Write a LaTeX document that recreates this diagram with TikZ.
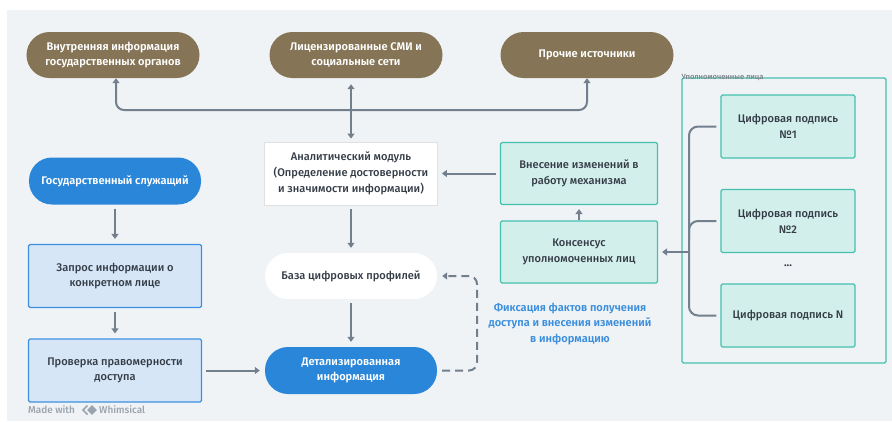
\documentclass[tikz,border=0pt]{standalone}
\usepackage{fontspec}
\setmainfont{Fira Sans}[UprightFont={* Medium},BoldFont={* SemiBold}]
\usetikzlibrary{arrows.meta,positioning,shapes.geometric}
\definecolor{bgc}{HTML}{F0F3F6}
\definecolor{brownc}{HTML}{857556}
\definecolor{bluec}{HTML}{2A86D9}
\definecolor{lbfill}{HTML}{D6E6F7}
\definecolor{lbdraw}{HTML}{3D90E0}
\definecolor{tfill}{HTML}{D3EFEB}
\definecolor{tdraw}{HTML}{45C0AE}
\definecolor{arrc}{HTML}{727F8D}
\definecolor{txtc}{HTML}{343C46}
\definecolor{fixc}{HTML}{3A8EDC}
\definecolor{grayt}{HTML}{9AA3AD}
\newcommand\mainfs{\fontsize{11.1}{15.8}\selectfont}
\tikzset{
  base/.style={align=center, font=\mainfs, inner sep=0pt},
  brownpill/.style={base, fill=brownc, text=white, rounded corners=23bp, minimum width=173bp, minimum height=46bp, font=\mainfs\bfseries},
  bluepill/.style={base, fill=bluec, text=white, rounded corners=23bp, minimum width=172bp, minimum height=47bp, font=\mainfs\bfseries},
  whitepill/.style={base, fill=white, text=txtc, rounded corners=23bp, minimum width=172bp, minimum height=46bp},
  whitebox/.style={base, fill=white, draw=black!12, line width=0.8bp, text=txtc, minimum width=173bp, minimum height=63bp},
  lbbox/.style={base, fill=lbfill, draw=lbdraw, line width=1.2bp, rounded corners=1.5bp, text=txtc, minimum width=173bp, minimum height=63bp},
  tbox/.style={base, fill=tfill, draw=tdraw, line width=1.2bp, rounded corners=1.5bp, text=txtc, minimum width=157bp, minimum height=62bp},
  sbox/.style={base, fill=tfill, draw=tdraw, line width=1.2bp, rounded corners=1.5bp, text=txtc, minimum width=134bp, minimum height=63bp},
  arr/.style={draw=arrc, line width=2bp, -{Triangle[length=5bp,width=7bp]}},
  ln/.style={draw=arrc, line width=2bp},
}
\begin{document}
\begin{tikzpicture}[x=1bp,y=-1bp]
\fill[white] (0,0) rectangle (892,421);
\fill[bgc] (7,10) rectangle (892,421);
\useasboundingbox (0,0) rectangle (892,421);

% top sources
\node[brownpill] (n1) at (113,55) {Внутренняя информация\\государственных органов};
\node[brownpill] (n2) at (356,55) {Лицензированные СМИ и\\социальные сети};
\node[brownpill] (n3) at (587,55) {Прочие источники};

% middle column
\node[whitebox] (ana) at (351,173.5) {Аналитический модуль\\(Определение достоверности\\и значимости информации)};
\node[whitepill] (baza) at (351,276) {База цифровых профилей};
\node[bluepill] (det) at (351,370.5) {Детализированная\\информация};

% left column
\node[bluepill] (gos) at (115,181) {Государственный служащий};
\node[lbbox] (zap) at (115,276) {Запрос информации о\\конкретном лице};
\node[lbbox] (prov) at (115,370.5) {Проверка правомерности\\доступа};

% right column
\node[tbox] (vnes) at (579,173.5) {Внесение изменений в\\работу механизма};
\node[tbox] (kons) at (579,252) {Консенсус\\уполномоченных лиц};
\node[base, text=fixc, font=\mainfs\bfseries] (fix) at (570,324) {Фиксация фактов получения\\доступа и внесения изменений\\в информацию};

% group
\node[draw=tdraw, line width=1.2bp, rounded corners=1.5bp, minimum width=204bp, minimum height=285bp, inner sep=0pt] (grp) at (784,220.5) {};
\node[anchor=south west, inner sep=0pt, text=grayt!80!black, font=\fontsize{7.6}{9}\selectfont] (grplbl) at ([yshift=-3bp]grp.north west) {Уполномоченные лица};
\node[sbox] (s1) at (788,126.5) {Цифровая подпись\\№1};
\node[sbox] (s2) at (788,221) {Цифровая подпись\\№2};
\node[base, text=txtc, font=\mainfs\bfseries] (dots) at (788,266) {...};
\node[sbox] (sN) at (788,315.5) {Цифровая подпись N};

% top connectors
\coordinate (jc) at (351,110);
\draw[arr, rounded corners=8bp] (jc) -- (116,110) -- (n1.south -| 116,0);
\draw[arr, rounded corners=8bp] (jc) -- (587,110) -- (n3.south);
\draw[arr, shorten >=6bp] (jc) -- (n2.south -| jc);
\draw[arr, shorten >=3bp] (jc) -- (ana.north);

% middle
\draw[arr, shorten >=5bp, shorten <=4bp] (ana) -- (baza);
\draw[arr, shorten >=5bp, shorten <=4bp] (baza) -- (det);
\draw[arr, shorten >=4bp, shorten <=4bp] (vnes) -- (ana);
\draw[arr, shorten >=4bp, shorten <=0bp] (kons) -- (vnes);

% left
\draw[arr, shorten >=5bp, shorten <=4bp] (gos) -- (zap);
\draw[arr, shorten >=5bp, shorten <=4bp] (zap) -- (prov);
\draw[arr, shorten >=5bp, shorten <=4bp] (prov) -- (det);

% dashed feedback
\draw[arr, dash pattern=on 8bp off 5bp, rounded corners=8bp, shorten >=5bp, shorten <=5bp] (det.east) -- (477,370.5) -- (477,276) -- (baza.east);

% bracket
\coordinate (bj) at (689,252);
\draw[ln, rounded corners=9bp, shorten <=4bp] (s1.west) -- (689,126.5) -- (689,315.5) -- ([xshift=-4bp]sN.west);
\draw[ln, rounded corners=9bp, shorten <=4bp] (s2.west) -- (689,221) -- (689,240);
\draw[arr, shorten >=4bp] (bj) -- (kons.east);

% watermark
\node[anchor=west, inner sep=0pt, text=grayt, font=\fontsize{10}{11}\selectfont] (mw) at (28,410) {Made with};
\node[diamond, fill=grayt, inner sep=0pt, minimum size=10bp] (logo) at (92,410) {};
\draw[grayt, line width=1.6bp] (87.5,405.5) -- (83,410) -- (87.5,414.5);
\node[anchor=west, inner sep=0pt, text=grayt, font=\fontsize{10}{11}\selectfont] (wh) at (99,410) {Whimsical};
\end{tikzpicture}
\end{document}
